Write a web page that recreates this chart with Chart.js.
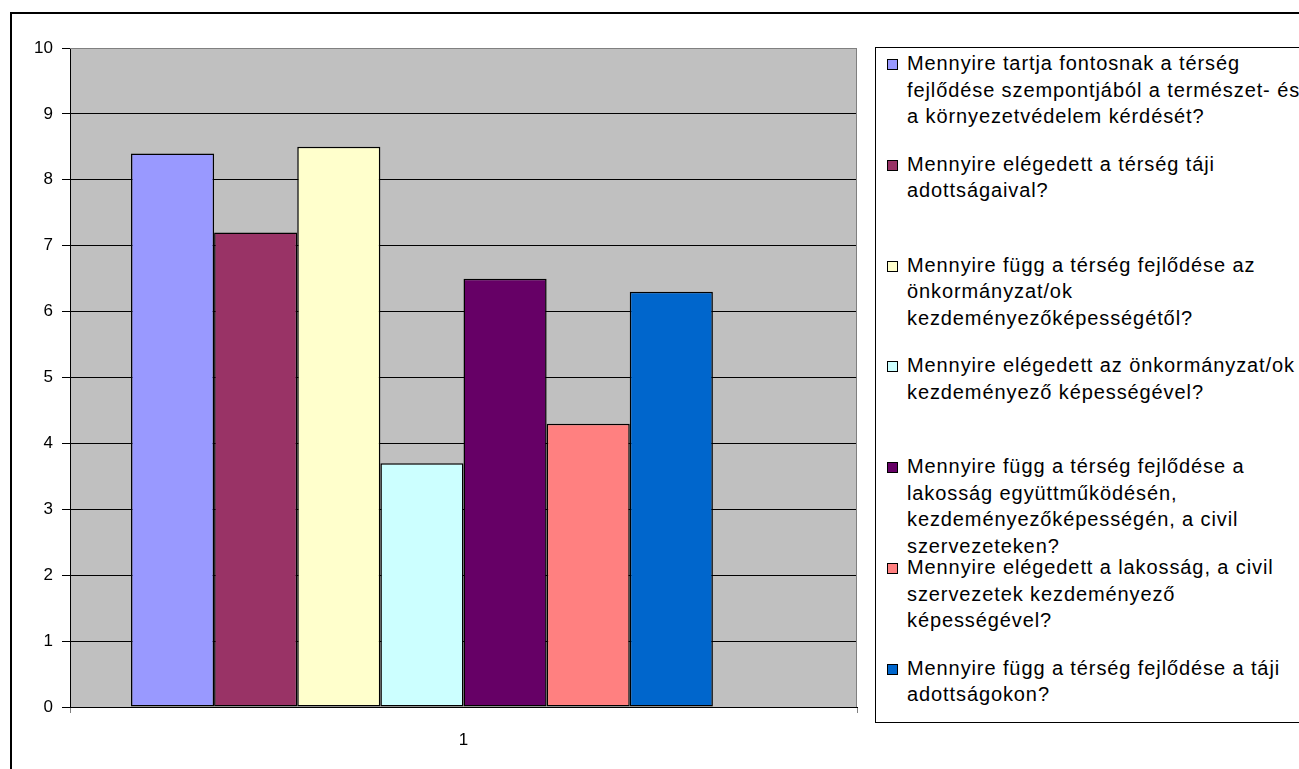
<!DOCTYPE html>
<html>
<head>
<meta charset="utf-8">
<script src="https://cdn.jsdelivr.net/npm/chart.js@4/dist/chart.umd.min.js"></script>
<style>
    html, body { margin: 0; padding: 0; background: #fff; }
    body { width: 1299px; height: 769px; position: relative; overflow: hidden; font-family: 'Liberation Sans', Arial, sans-serif; }
    #frame { position: absolute; left: 10px; top: 12px; width: 1400px; height: 900px; border-top: 2px solid #000; border-left: 2px solid #000; }
    #chart-wrap { position: absolute; left: 0; top: 0; width: 870px; height: 769px; }
    #legend { position: absolute; left: 875px; top: 47px; width: 500px; height: 674px; border: 1px solid #000; background: #fff; }
    .legend-item { position: absolute; left: 11px; font-size: 20px; line-height: 26.5px; letter-spacing: 0.9px; color: #000; white-space: pre; }
    .legend-box { position: absolute; left: 0; top: 9px; width: 9px; height: 9px; border: 1px solid #000; }
    .legend-text { position: absolute; left: 20px; top: 0; }
</style>
</head>
<body>
<div id="frame"></div>
<div id="chart-wrap"><canvas id="chart"></canvas></div>
<div id="legend"></div>
<script>
const categories = ['1'];

const seriesLabels = [
    'Mennyire tartja fontosnak a térség\nfejlődése szempontjából a természet- és\na környezetvédelem kérdését?',
    'Mennyire elégedett a térség táji\nadottságaival?',
    'Mennyire függ a térség fejlődése az\nönkormányzat/ok\nkezdeményezőképességétől?',
    'Mennyire elégedett az önkormányzat/ok\nkezdeményező képességével?',
    'Mennyire függ a térség fejlődése a\nlakosság együttműködésén,\nkezdeményezőképességén, a civil\nszervezeteken?',
    'Mennyire elégedett a lakosság, a civil\nszervezetek kezdeményező\nképességével?',
    'Mennyire függ a térség fejlődése a táji\nadottságokon?'
];

const seriesValues = [8.4, 7.2, 8.5, 3.7, 6.5, 4.3, 6.3];

const seriesColors = ['#9999FF', '#993366', '#FFFFCC', '#CCFFFF', '#660066', '#FF8080', '#0066CC'];

const yTicks = [0, 1, 2, 3, 4, 5, 6, 7, 8, 9, 10];

const plotBackground = {
    id: 'plotBackground',
    beforeDraw(chart) {
        const { ctx, chartArea: a } = chart;
        ctx.save();
        ctx.fillStyle = '#C0C0C0';
        ctx.fillRect(a.left, a.top, a.right - a.left, a.bottom - a.top);
        ctx.restore();
    },
    afterDraw(chart) {
        const { ctx, chartArea: a } = chart;
        ctx.save();
        ctx.strokeStyle = '#808080';
        ctx.lineWidth = 1;
        ctx.beginPath();
        ctx.moveTo(a.left, a.top + 0.5);
        ctx.lineTo(a.right - 0.5, a.top + 0.5);
        ctx.lineTo(a.right - 0.5, a.bottom);
        ctx.stroke();
        ctx.restore();
    }
};

function buildLegend() {
    const legend = document.getElementById('legend');
    seriesLabels.forEach((label, i) => {
        const item = document.createElement('div');
        item.className = 'legend-item';
        item.style.top = `${2 + i * 100.8}px`;
        const box = document.createElement('span');
        box.className = 'legend-box';
        box.style.background = seriesColors[i];
        const text = document.createElement('span');
        text.className = 'legend-text';
        text.textContent = label;
        item.appendChild(box);
        item.appendChild(text);
        legend.appendChild(item);
    });
}

function renderChart() {
    const ctx = document.getElementById('chart').getContext('2d');
    Chart.defaults.font.family = "'Liberation Sans', Arial, sans-serif";
    Chart.defaults.font.size = 17;
    Chart.defaults.color = '#000';

    const datasets = seriesLabels.map((label, i) => ({
        label: label.replace(/\n/g, ' '),
        data: [seriesValues[i]],
        backgroundColor: seriesColors[i],
        borderColor: '#000',
        borderWidth: 1.5,
        borderSkipped: false,
        categoryPercentage: 0.845,
        barPercentage: 1
    }));
    // Excel reserves an eighth, empty series slot at the right of the group
    datasets.push({
        label: '',
        data: [null],
        categoryPercentage: 0.845,
        barPercentage: 1
    });

    return new Chart(ctx, {
        type: 'bar',
        data: {
            labels: categories,
            datasets
        },
        options: {
            responsive: true,
            maintainAspectRatio: false,
            animation: false,
            layout: {
                padding: { top: 48, left: 0, right: 13, bottom: 0 }
            },
            plugins: {
                legend: { display: false },
                tooltip: { enabled: false }
            },
            scales: {
                x: {
                    offset: true,
                    afterFit: (scale) => { scale.height = 62; },
                    grid: {
                        drawOnChartArea: false,
                        drawTicks: true,
                        tickLength: 6,
                        color: '#808080'
                    },
                    border: { color: '#000', width: 1 },
                    ticks: { padding: 17, color: '#000' }
                },
                y: {
                    min: 0,
                    max: 10,
                    afterFit: (scale) => { scale.width = 70; },
                    afterBuildTicks: (scale) => {
                        scale.ticks = yTicks.map((value) => ({ value }));
                    },
                    grid: {
                        color: (c) => (c.tick && c.tick.value === 10 ? '#808080' : '#000'),
                        tickColor: '#000',
                        tickLength: 8,
                        lineWidth: 1
                    },
                    border: { color: '#000', width: 1 },
                    ticks: { padding: 9, color: '#000' }
                }
            }
        },
        plugins: [plotBackground]
    });
}

buildLegend();
renderChart();
</script>
</body>
</html>
